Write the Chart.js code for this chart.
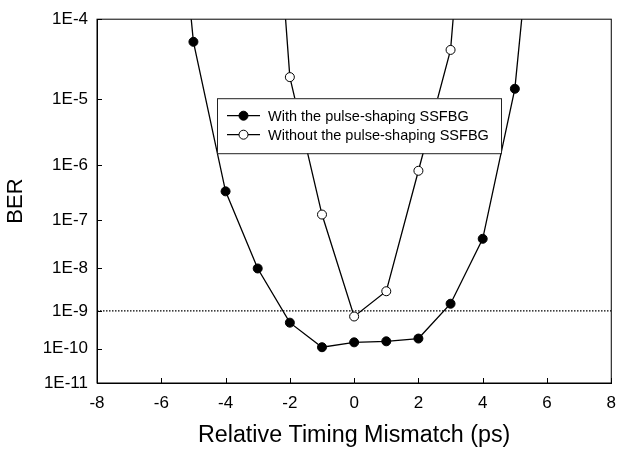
<!DOCTYPE html>
<html>
<head>
<meta charset="utf-8">
<script src="https://cdn.jsdelivr.net/npm/chart.js@4.4.0/dist/chart.umd.min.js"></script>
<style>
  html, body { margin: 0; padding: 0; background: #fff; }
</style>
</head>
<body>
<canvas id="berChart" width="626" height="451"></canvas>
<script>
// Relative timing mismatch (ps) and measured BER
const withX = [-6, -5, -4, -3, -2, -1, 0, 1, 2, 3, 4, 5, 6];
const withBER = [2e-2, 5.5e-5, 3.5e-7, 1e-8, 5e-10, 1.1e-10, 1.5e-10, 1.6e-10, 1.9e-10, 1.5e-9, 4.3e-8, 1.4e-5, 1.1e-2];

const withoutX = [-3, -2, -1, 0, 1, 2, 3, 4];
const withoutBER = [4e-2, 2e-5, 1.3e-7, 7.2e-10, 3e-9, 8e-7, 4.4e-5, 3.3e-2];

const thresholdX = [-8, 8];
const thresholdBER = [1e-9, 1e-9];

const yTickValues = [1e-4, 1e-5, 1e-6, 1e-7, 1e-8, 1e-9, 1e-10, 1e-11];
const yTickLabels = ['1E-4', '1E-5', '1E-6', '1E-7', '1E-8', '1E-9', '1E-10', '1E-11'];

const seriesNames = ['With the pulse-shaping SSFBG', 'Without the pulse-shaping SSFBG'];

// BER axis: -log(-log(BER)) scale
const berScale = v => Math.log10(-Math.log10(v));
const toPoints = (xs, ys) => xs.map((x, i) => ({ x: x, y: berScale(ys[i]) }));

const FONT = '"Liberation Sans", Arial, sans-serif';

// frame + inner ticks
const framePlugin = {
    id: 'frame',
    afterDraw(chart) {
        const { ctx, chartArea: a, scales } = chart;
        ctx.save();
        ctx.strokeStyle = '#000';
        ctx.lineWidth = 1;
        ctx.strokeRect(a.left, a.top, a.right - a.left, a.bottom - a.top);
        ctx.beginPath();
        scales.y.ticks.forEach(t => {
            const py = Math.round(scales.y.getPixelForValue(t.value)) + 0.5;
            ctx.moveTo(a.left, py);
            ctx.lineTo(a.left + 5, py);
        });
        scales.x.ticks.forEach(t => {
            const px = Math.round(scales.x.getPixelForValue(t.value)) + 0.5;
            ctx.moveTo(px, a.bottom);
            ctx.lineTo(px, a.bottom - 5);
        });
        ctx.stroke();
        ctx.restore();
    }
};

// legend box inside the plot
const legendPlugin = {
    id: 'boxLegend',
    afterDraw(chart) {
        const { ctx, chartArea: a } = chart;
        const left = a.left + 120, top = a.top + 79, w = 284, h = 55;
        ctx.save();
        ctx.fillStyle = '#fff';
        ctx.fillRect(left, top, w, h);
        ctx.strokeStyle = '#222';
        ctx.lineWidth = 1;
        ctx.strokeRect(left + 0.5, top + 0.5, w, h);
        ctx.font = '14.5px ' + FONT;
        ctx.textBaseline = 'middle';
        [0, 1].forEach(i => {
            const ds = chart.data.datasets[i];
            const y = top + 17.5 + i * 19;
            ctx.strokeStyle = '#000';
            ctx.lineWidth = 1.3;
            ctx.beginPath();
            ctx.moveTo(left + 10, y);
            ctx.lineTo(left + 43, y);
            ctx.stroke();
            ctx.beginPath();
            ctx.arc(left + 26.5, y, 4.5, 0, Math.PI * 2);
            ctx.fillStyle = ds.pointBackgroundColor;
            ctx.fill();
            ctx.lineWidth = 1;
            ctx.stroke();
            ctx.fillStyle = '#000';
            ctx.fillText(seriesNames[i], left + 51, y + 1);
        });
        ctx.restore();
    }
};

new Chart(document.getElementById('berChart'), {
    type: 'line',
    data: {
        datasets: [
            {
                label: seriesNames[0],
                data: toPoints(withX, withBER),
                borderColor: '#000',
                borderWidth: 1.3,
                pointRadius: 4.5,
                pointBackgroundColor: '#000',
                pointBorderColor: '#000',
                pointBorderWidth: 1,
                fill: false,
                tension: 0
            },
            {
                label: seriesNames[1],
                data: toPoints(withoutX, withoutBER),
                borderColor: '#000',
                borderWidth: 1.3,
                pointRadius: 4.5,
                pointBackgroundColor: '#fff',
                pointBorderColor: '#000',
                pointBorderWidth: 1,
                fill: false,
                tension: 0
            },
            {
                label: 'threshold',
                data: toPoints(thresholdX, thresholdBER),
                borderColor: '#000',
                borderWidth: 1.2,
                borderDash: [1.5, 1.5],
                pointRadius: 0,
                fill: false
            }
        ]
    },
    options: {
        responsive: false,
        animation: false,
        devicePixelRatio: 1,
        layout: { padding: { left: 0, right: 8, top: 17, bottom: 0 } },
        plugins: {
            legend: { display: false },
            tooltip: { enabled: false }
        },
        scales: {
            x: {
                type: 'linear',
                min: -8,
                max: 8,
                grid: { display: false, drawTicks: false },
                border: { display: true, color: '#000', width: 1 },
                ticks: {
                    stepSize: 2,
                    padding: 10,
                    color: '#000',
                    font: { family: FONT, size: 17 }
                },
                title: {
                    display: true,
                    text: 'Relative Timing Mismatch (ps)',
                    color: '#000',
                    font: { family: FONT, size: 23.3 },
                    padding: { top: 0, bottom: 1 }
                },
                afterFit(scale) { scale.height = 68; }
            },
            y: {
                type: 'linear',
                reverse: true,
                min: berScale(1e-4),
                max: berScale(1e-11),
                grid: { display: false, drawTicks: false },
                border: { display: true, color: '#000', width: 1 },
                afterBuildTicks(scale) {
                    scale.ticks = yTickValues.map(v => ({ value: berScale(v) }));
                },
                ticks: {
                    padding: 9,
                    color: '#000',
                    font: { family: FONT, size: 17 },
                    callback: (value, index) => yTickLabels[index]
                },
                title: {
                    display: true,
                    text: 'BER',
                    color: '#000',
                    font: { family: FONT, size: 22 },
                    padding: { top: 3, bottom: 0 }
                },
                afterFit(scale) { scale.width = 97; }
            }
        }
    },
    plugins: [framePlugin, legendPlugin]
});
</script>
</body>
</html>
